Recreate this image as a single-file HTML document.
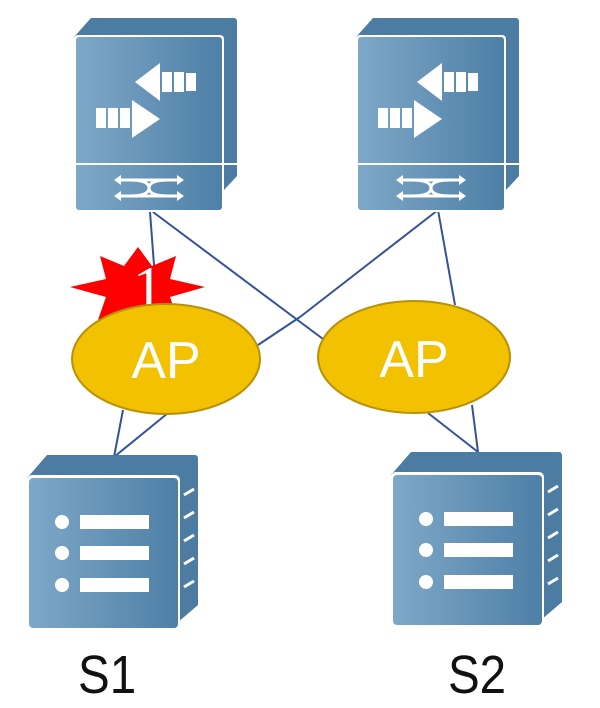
<!DOCTYPE html>
<html><head><style>body{margin:0;background:#fff;}svg{display:block}</style></head><body>
<svg width="600" height="708" viewBox="0 0 600 708" xmlns="http://www.w3.org/2000/svg">
<defs>
<linearGradient id="g" x1="0" x2="1" y1="0" y2="0"><stop offset="0" stop-color="#7ea8c8"/><stop offset="1" stop-color="#4e7fa6"/></linearGradient>
<g id="sw">
<path d="M0,19 L17,0 L160,0 Q163,0 163,4 L163,158 L150,172 L148,19 Z" fill="#4d7ca3"/>
<rect x="0" y="17" width="150" height="177" rx="4" fill="#fff"/>
<rect x="2" y="19" width="146" height="173" rx="3" fill="url(#g)"/>
<line x1="2" y1="146" x2="163" y2="146" stroke="#fff" stroke-width="2"/>
<polygon points="61,64 86,45 86,83" fill="#fff"/><rect x="88" y="54" width="10" height="20" fill="#fff"/><rect x="100" y="54" width="10" height="20" fill="#fff"/><rect x="112" y="55" width="10" height="18" fill="#fff"/>
<polygon points="86,101 58,82 58,120" fill="#fff"/><rect x="22" y="90" width="10" height="20" fill="#fff"/><rect x="34" y="90" width="10" height="20" fill="#fff"/><rect x="46" y="90" width="10" height="20" fill="#fff"/>
<path d="M42,162 L108,162 M42,178 L108,178 M55,162 Q75,162 75,170 Q75,178 95,178 M55,178 Q75,178 75,170 Q75,162 95,162" stroke="#fff" stroke-width="3" fill="none"/>
<polygon points="40,162 47,157 47,167" fill="#fff"/><polygon points="110,162 103,157 103,167" fill="#fff"/><polygon points="40,178 47,173 47,183" fill="#fff"/><polygon points="110,178 103,173 103,183" fill="#fff"/>
</g>
<g id="sv">
<path d="M0,23 L20,0 L168,0 Q171,0 171,4 L171,150 L150,168 L150,23 Z" fill="#4d7ca3"/>
<rect x="0" y="20" width="153" height="155" rx="5" fill="#fff"/>
<rect x="2" y="23" width="149" height="150" rx="4" fill="url(#g)"/>
<g fill="#fff"><circle cx="35" cy="67" r="7"/><circle cx="35" cy="98" r="7"/><circle cx="35" cy="130" r="7"/>
<rect x="53" y="60" width="69" height="14"/><rect x="53" y="91" width="69" height="14"/><rect x="53" y="123" width="69" height="14"/></g>
<g stroke="#fff" stroke-width="3"><line x1="157" y1="40" x2="167" y2="34"/><line x1="157" y1="63" x2="167" y2="57"/><line x1="157" y1="86" x2="167" y2="80"/><line x1="157" y1="109" x2="167" y2="103"/><line x1="157" y1="132" x2="167" y2="126"/></g>
</g>
</defs>
<g stroke="#34529a" stroke-width="2" fill="none">
<line x1="150" y1="212" x2="157" y2="305"/>
<line x1="153" y1="212" x2="323" y2="339"/>
<line x1="438" y1="210" x2="300" y2="317"/>
<line x1="300" y1="317" x2="258" y2="345"/>
<line x1="438" y1="210" x2="455" y2="305"/>
<line x1="123" y1="410" x2="114" y2="457"/>
<line x1="168" y1="413" x2="114" y2="457"/>
<line x1="428" y1="413" x2="478" y2="452"/>
<line x1="472" y1="405" x2="478" y2="452"/>
</g>
<use href="#sw" x="74" y="18"/>
<use href="#sw" x="356" y="18"/>
<polygon points="138,247 152,266 176,256 170,279 205,287 170,297 178,320 152,309 138,325 124,309 98,320 106,297 70,287 106,279 100,256 124,266" fill="#ff0000"/>
<text x="148" y="308" font-family="Liberation Serif,serif" font-size="60" fill="#fff" text-anchor="middle">1</text>
<ellipse cx="166" cy="359" rx="94" ry="55" fill="#f2c100" stroke="#b8900a" stroke-width="2"/>
<ellipse cx="414" cy="357" rx="96" ry="56" fill="#f2c100" stroke="#b8900a" stroke-width="2"/>
<text x="166" y="378" font-family="Liberation Sans,sans-serif" font-size="52" fill="#fff" text-anchor="middle">AP</text>
<text x="414" y="377" font-family="Liberation Sans,sans-serif" font-size="52" fill="#fff" text-anchor="middle">AP</text>
<use href="#sv" x="27" y="455"/>
<use href="#sv" x="391" y="452"/>
<text x="78" y="693" font-family="Liberation Sans,sans-serif" font-size="54" fill="#111" transform="translate(78 0) scale(0.88 1) translate(-78 0)">S1</text>
<text x="448" y="693" font-family="Liberation Sans,sans-serif" font-size="54" fill="#111" transform="translate(448 0) scale(0.88 1) translate(-448 0)">S2</text>
</svg>
</body></html>
